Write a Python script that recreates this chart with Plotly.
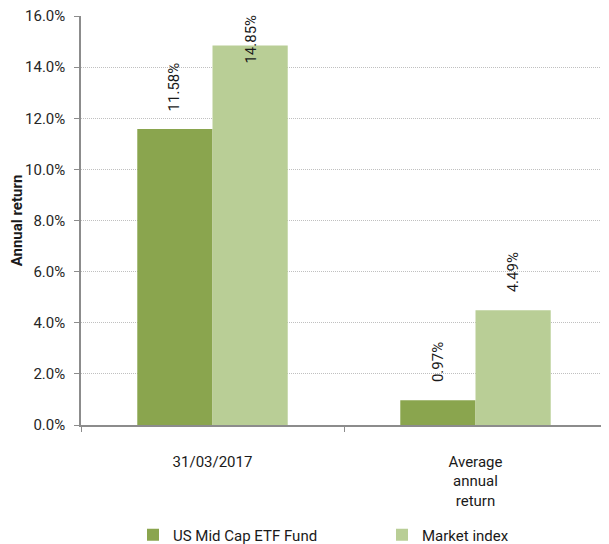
import plotly.graph_objects as go

categories = ["31/03/2017", "Average<br>annual<br>return"]
fund_name = "US Mid Cap ETF Fund"
index_name = "Market index"
fund_values = [11.58, 0.97]
index_values = [14.85, 4.49]
y_ticks = [0, 2, 4, 6, 8, 10, 12, 14, 16]

# the page body has an 8px margin, so figure coords = page coords - 8
OFF = 8
W, H = 609 - OFF, 544 - OFF
ML, MR, MT, MB = 81 - OFF, 2, 16 - OFF, 119
BARGAP = 0.428
FONT = "Roboto, 'Open Sans', sans-serif"
DARK = "#8AA54E"
LIGHT = "#B9CE96"
YMAX = 16

fig = go.Figure()
fig.add_trace(go.Bar(name=fund_name, x=categories, y=fund_values,
                     marker=dict(color=DARK, line=dict(width=0))))
fig.add_trace(go.Bar(name=index_name, x=categories, y=index_values,
                     marker=dict(color=LIGHT, line=dict(width=0))))

# value labels (rotated) above each bar
plot_w = W - ML - MR
cat_px = plot_w / len(categories)
bar_px = cat_px * (1 - BARGAP) / 2
shift = bar_px / 2
plot_h = H - MT - MB
px_per_unit = plot_h / YMAX
for vals, dx in ((fund_values, -shift), (index_values, shift)):
    for c, v in zip(categories, vals):
        label_px = 50 + 16
        if v * px_per_unit + label_px > plot_h:
            ann = dict(y=YMAX, yanchor="top", yshift=3)
        else:
            ann = dict(y=v, yanchor="bottom", yshift=16)
        fig.add_annotation(x=c, xref="x", yref="y", text=f"{v:.2f}%",
                           textangle=-90, showarrow=False, xshift=dx,
                           xanchor="center",
                           font=dict(family=FONT, size=15, color="#1a1a1a"),
                           **ann)

fig.update_layout(
    width=W, height=H,
    margin=dict(l=ML, r=MR, t=MT, b=MB, autoexpand=False),
    paper_bgcolor="white", plot_bgcolor="white",
    barmode="group", bargap=BARGAP, bargroupgap=0,
    font=dict(family=FONT, size=15, color="#262626"),
    showlegend=True,
    legend=dict(orientation="h", xref="container", yref="container",
                x=(133 - OFF) / W, xanchor="left",
                y=1 - (535 - OFF) / H, yanchor="middle",
                entrywidth=204, entrywidthmode="pixels",
                font=dict(family=FONT, size=15, color="#1a1a1a"),
                itemclick=False, traceorder="normal"),
)
fig.update_yaxes(
    range=[0, YMAX], tickvals=y_ticks,
    ticktext=[f"{t:.1f}%" for t in y_ticks],
    ticklabeloverflow="allow", ticklabelstandoff=6,
    showgrid=True, gridcolor="#c0c0c0", griddash="1px,1px", gridwidth=1,
    showline=True, linecolor="#8c8c8c", linewidth=1.5,
    ticks="outside", ticklen=5, tickcolor="#8c8c8c",
    zeroline=False,
    title=dict(text="<b>Annual return</b>", standoff=8,
               font=dict(family=FONT, size=15, color="#1a1a1a")),
)
fig.update_xaxes(
    showline=True, linecolor="#8c8c8c", linewidth=1.5,
    ticks="outside", tickson="boundaries", ticklen=5, tickcolor="#8c8c8c",
    ticklabelstandoff=22, showgrid=False,
    tickfont=dict(family=FONT, size=15, color="#1a1a1a"),
)

fig.write_html("out.html")
